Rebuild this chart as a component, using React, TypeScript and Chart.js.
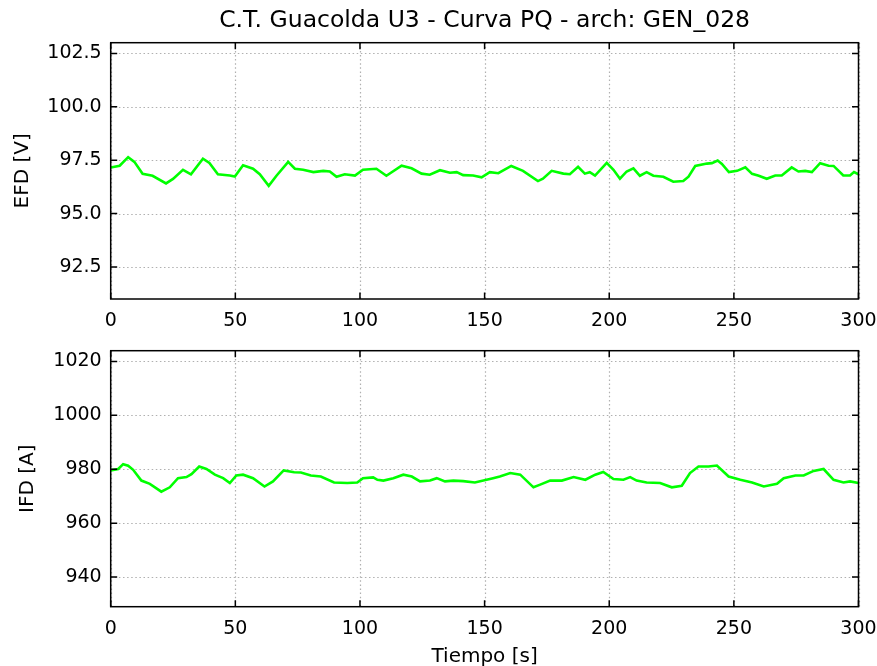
import React, { useEffect, useRef } from "react";
import { Chart, registerables } from "chart.js";

Chart.register(...registerables);

const TITLE = "C.T. Guacolda U3 - Curva PQ - arch: GEN_028";
const X_LABEL = "Tiempo [s]";
const EFD_LABEL = "EFD [V]";
const IFD_LABEL = "IFD [A]";

const X_TICKS = [0, 50, 100, 150, 200, 250, 300];
const EFD_TICKS = [92.5, 95, 97.5, 100, 102.5];
const IFD_TICKS = [940, 960, 980, 1000, 1020];

const EFD_T = [0, 3.6, 7, 9.5, 12.8, 16.8, 22.2, 25, 29, 32.2, 37, 39.6, 43, 47.8, 49.8, 53.1, 57.1, 59.8, 63.4, 66.5, 71.2, 73.9, 77.2, 81.3, 85.3, 87.9, 90.6, 93.9, 98, 101.2, 106.6, 110.6, 116.7, 120.7, 124.7, 128, 132.1, 136.1, 138.8, 141.4, 145.4, 148.8, 152.1, 155.5, 160.7, 165.4, 171.4, 173.4, 176.9, 181.6, 184.2, 187.5, 190.2, 192.2, 194.3, 199, 201.7, 204.3, 207, 209.7, 212.3, 215, 217.7, 221.7, 225.7, 229.7, 231.8, 234.5, 239.2, 241.2, 243.5, 245.2, 248, 251.3, 254.6, 257.3, 260, 263.2, 266.6, 269.2, 273.2, 275.9, 278.6, 281.3, 284.6, 288, 290, 293.9, 296.6, 298.2, 300];
const EFD_V = [97.16, 97.24, 97.64, 97.42, 96.86, 96.77, 96.41, 96.62, 97.05, 96.84, 97.57, 97.37, 96.84, 96.78, 96.73, 97.26, 97.1, 96.84, 96.3, 96.77, 97.42, 97.1, 97.05, 96.94, 97.0, 96.97, 96.72, 96.84, 96.78, 97.05, 97.1, 96.77, 97.24, 97.12, 96.87, 96.82, 97.03, 96.91, 96.94, 96.8, 96.78, 96.7, 96.94, 96.89, 97.23, 97.0, 96.52, 96.63, 97.0, 96.87, 96.84, 97.19, 96.87, 96.94, 96.78, 97.37, 97.05, 96.63, 96.97, 97.12, 96.77, 96.94, 96.77, 96.72, 96.49, 96.52, 96.73, 97.23, 97.34, 97.36, 97.48, 97.32, 96.94, 97.0, 97.17, 96.86, 96.77, 96.63, 96.78, 96.78, 97.16, 96.97, 97.0, 96.94, 97.36, 97.24, 97.23, 96.78, 96.78, 96.94, 96.84];

const IFD_T = [0, 3, 5, 7, 9, 12.3, 15.7, 20.3, 23.7, 27, 30.4, 32.4, 35.5, 38.4, 41.8, 45.1, 47.8, 50.4, 53.1, 57.1, 61.7, 65.1, 69.4, 73.6, 76.3, 80.3, 84.3, 89.6, 94.9, 98.9, 101.2, 105.3, 107, 109.4, 113.4, 117.4, 120.8, 124.1, 128.1, 130.8, 134.1, 137.5, 141.4, 146.1, 150.8, 153.4, 156.1, 160.3, 164.3, 169.6, 172.3, 176.3, 181, 185.7, 190.4, 194.4, 197.6, 201.7, 205.7, 208.4, 211, 215, 220.4, 225.1, 229.1, 232.4, 235.8, 239.8, 243.2, 247.9, 252.6, 257.3, 262, 267.3, 270, 274.7, 278, 282, 286, 290, 294, 296.6, 300];
const IFD_V = [979.6, 980.1, 981.9, 981.3, 979.8, 975.8, 974.6, 971.7, 973.3, 976.7, 977.1, 978.2, 981.0, 980.1, 978.0, 976.7, 974.9, 977.7, 978.0, 976.7, 973.6, 975.5, 979.6, 978.9, 978.8, 977.7, 977.3, 975.1, 974.9, 975.1, 976.7, 977.0, 976.1, 975.8, 976.7, 978.0, 977.3, 975.5, 975.8, 976.7, 975.5, 975.8, 975.6, 975.1, 976.1, 976.7, 977.3, 978.6, 978.0, 973.3, 974.3, 975.8, 975.8, 977.1, 976.1, 978.0, 979.0, 976.4, 976.1, 977.1, 975.8, 975.1, 974.9, 973.3, 973.9, 978.6, 981.0, 981.0, 981.4, 977.3, 976.1, 975.1, 973.6, 974.6, 976.7, 977.7, 977.7, 979.4, 980.1, 976.1, 975.1, 975.5, 974.9];

const FONT = "DejaVu Sans";
const W = 877;
const H = 333;

type PanelCfg = {
  t: number[];
  v: number[];
  yTicks: number[];
  yMin: number;
  yMax: number;
  yLabel: string;
  yTitlePad: number;
  decimals: number;
  padTop: number;
  xAxisH: number;
  xTitle: string | null;
  title: string | null;
};

function makeFramePlugin(title: string | null) {
  return {
    id: "mplFrame",
    beforeDatasetsDraw(chart: any) {
      const { ctx, chartArea: a, scales } = chart;
      ctx.save();
      ctx.strokeStyle = "#b0b0b0";
      ctx.lineWidth = 1.2;
      ctx.setLineDash([1.5, 2.6]);
      for (const tk of scales.x.ticks) {
        const px = Math.round(scales.x.getPixelForValue(tk.value)) + 0.5;
        ctx.beginPath();
        ctx.moveTo(px, a.top);
        ctx.lineTo(px, a.bottom);
        ctx.stroke();
      }
      for (const tk of scales.y.ticks) {
        const py = Math.round(scales.y.getPixelForValue(tk.value)) + 0.5;
        ctx.beginPath();
        ctx.moveTo(a.left, py);
        ctx.lineTo(a.right, py);
        ctx.stroke();
      }
      ctx.restore();
    },
    afterDatasetsDraw(chart: any) {
      const { ctx, chartArea: a, scales } = chart;
      ctx.save();
      ctx.strokeStyle = "#000";
      ctx.lineWidth = 1.5;
      ctx.setLineDash([]);
      ctx.strokeRect(a.left, a.top, a.right - a.left, a.bottom - a.top);
      const L = 6.5;
      for (const tk of scales.x.ticks) {
        const px = scales.x.getPixelForValue(tk.value);
        ctx.beginPath();
        ctx.moveTo(px, a.bottom);
        ctx.lineTo(px, a.bottom - L);
        ctx.moveTo(px, a.top);
        ctx.lineTo(px, a.top + L);
        ctx.stroke();
      }
      for (const tk of scales.y.ticks) {
        const py = scales.y.getPixelForValue(tk.value);
        ctx.beginPath();
        ctx.moveTo(a.left, py);
        ctx.lineTo(a.left + L, py);
        ctx.moveTo(a.right, py);
        ctx.lineTo(a.right - L, py);
        ctx.stroke();
      }
      if (title) {
        ctx.fillStyle = "#000";
        ctx.font = `23.5px "${FONT}"`;
        ctx.textAlign = "center";
        ctx.textBaseline = "middle";
        ctx.fillText(title, (a.left + a.right) / 2, 21);
      }
      ctx.restore();
    },
  };
}

function Panel({ cfg, top }: { cfg: PanelCfg; top: number }) {
  const ref = useRef<HTMLCanvasElement>(null);
  useEffect(() => {
    if (!ref.current) return;
    const tickFont = { family: FONT, size: 19 };
    const labelFont = { family: FONT, size: 20 };
    const chart = new Chart(ref.current, {
      type: "line",
      data: {
        datasets: [
          {
            data: cfg.t.map((x, i) => ({ x, y: cfg.v[i] })),
            borderColor: "#00ff00",
            borderWidth: 2.6,
            pointRadius: 0,
            tension: 0,
            fill: false,
          },
        ],
      },
      options: {
        animation: false,
        responsive: false,
        maintainAspectRatio: false,
        events: [],
        layout: { padding: { top: cfg.padTop, right: 18.5, bottom: 0, left: 0 } },
        plugins: {
          legend: { display: false },
          tooltip: { enabled: false },
          title: { display: false },
        },
        scales: {
          x: {
            type: "linear",
            min: 0,
            max: 300,
            afterBuildTicks: (s: any) => {
              s.ticks = X_TICKS.map((value) => ({ value }));
            },
            afterFit: (s: any) => {
              s.height = cfg.xAxisH;
              s.paddingLeft = 0;
              s.paddingRight = 0;
            },
            grid: { display: false, drawTicks: false },
            border: { display: false },
            ticks: {
              font: tickFont,
              color: "#000",
              padding: 10.5,
              maxRotation: 0,
              autoSkip: false,
              callback: (v: any) => String(v),
            },
            title: cfg.xTitle
              ? {
                  display: true,
                  text: cfg.xTitle,
                  font: labelFont,
                  color: "#000",
                  padding: { top: 0, bottom: -2.5 },
                }
              : { display: false },
          },
          y: {
            type: "linear",
            min: cfg.yMin,
            max: cfg.yMax,
            afterBuildTicks: (s: any) => {
              s.ticks = cfg.yTicks.map((value) => ({ value }));
            },
            afterFit: (s: any) => {
              s.width = 110.7;
              s.paddingTop = 0;
              s.paddingBottom = 0;
            },
            grid: { display: false, drawTicks: false },
            border: { display: false },
            ticks: {
              font: tickFont,
              color: "#000",
              padding: 9,
              autoSkip: false,
              callback: (v: any) => Number(v).toFixed(cfg.decimals),
            },
            title: {
              display: true,
              text: cfg.yLabel,
              font: labelFont,
              color: "#000",
              padding: { top: cfg.yTitlePad, bottom: 0 },
            },
          },
        },
      },
      plugins: [makeFramePlugin(cfg.title)],
    } as any);
    return () => chart.destroy();
  }, [cfg]);
  return (
    <canvas
      ref={ref}
      width={W}
      height={H}
      style={{ position: "absolute", left: 0, top, width: W, height: H }}
    />
  );
}

const TOP_CFG: PanelCfg = {
  t: EFD_T,
  v: EFD_V,
  yTicks: EFD_TICKS,
  yMin: 91.0,
  yMax: 103.0,
  yLabel: EFD_LABEL,
  yTitlePad: 10.5,
  decimals: 1,
  padTop: 42.7,
  xAxisH: 34,
  xTitle: null,
  title: TITLE,
};

const BOTTOM_CFG: PanelCfg = {
  t: IFD_T,
  v: IFD_V,
  yTicks: IFD_TICKS,
  yMin: 929.0,
  yMax: 1024.0,
  yLabel: IFD_LABEL,
  yTitlePad: 15.5,
  decimals: 0,
  padTop: 17.7,
  xAxisH: 59.3,
  xTitle: X_LABEL,
  title: null,
};

export default function App() {
  return (
    <div
      style={{
        position: "absolute",
        left: 0,
        top: 0,
        width: W,
        height: 666,
        background: "#fff",
      }}
    >
      <Panel cfg={TOP_CFG} top={0} />
      <Panel cfg={BOTTOM_CFG} top={333} />
    </div>
  );
}
